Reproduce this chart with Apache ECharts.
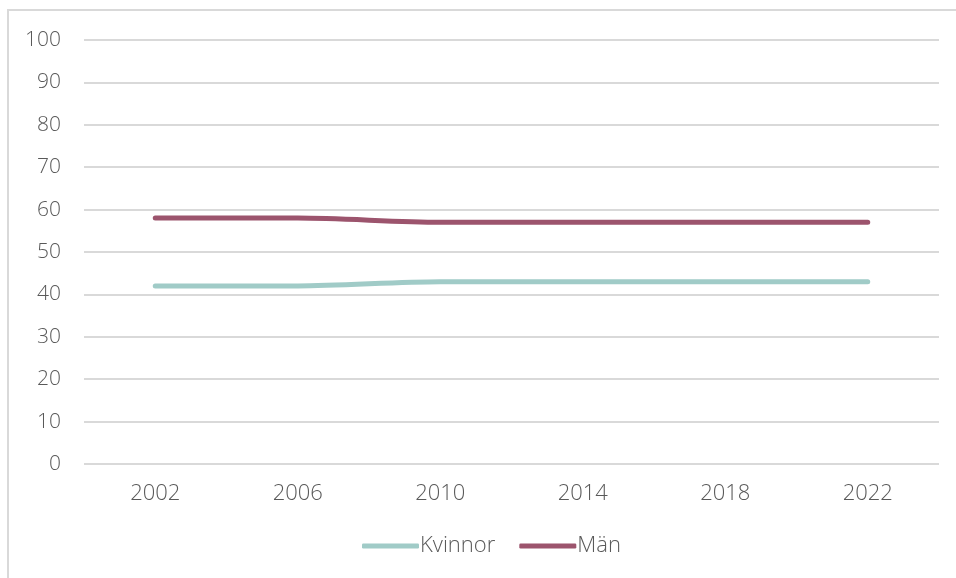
<!DOCTYPE html>
<html>
<head>
<meta charset="utf-8">
<script src="https://cdn.jsdelivr.net/npm/echarts@6/dist/echarts.min.js"></script>
<style>
html, body { margin: 0; padding: 0; background: #fff; }
#frame {
  position: absolute; left: 7px; top: 9px; width: 1000px; height: 620px;
  border: 2px solid #d9d9d9; box-sizing: border-box;
}
#chart { position: absolute; left: 0; top: 0; width: 956px; height: 578px; }
</style>
</head>
<body>
<div id="frame"></div>
<div id="chart"></div>
<script>
var years = ["2002", "2006", "2010", "2014", "2018", "2022"];
var kvinnor = [42, 42, 43, 43, 43, 43];
var man = [58, 58, 57, 57, 57, 57];

var chart = echarts.init(document.getElementById("chart"));
var textFont = "Open Sans";

chart.setOption({
  animation: false,
  grid: { left: 84, right: 17, top: 40, bottom: 114 },
  legend: {
    bottom: 16,
    left: 357,
    itemWidth: 57,
    itemHeight: 5,
    itemGap: 24,
    icon: "roundRect",
    textStyle: { color: "#595959", fontSize: 22, fontWeight: 300, fontFamily: textFont, padding: [0, 0, 0, -4] },
    data: ["Kvinnor", "Män"]
  },
  xAxis: {
    type: "category",
    data: years,
    boundaryGap: true,
    axisLine: { show: false },
    axisTick: { show: false },
    axisLabel: { color: "#595959", fontSize: 22, fontWeight: 300, fontFamily: textFont, margin: 19 }
  },
  yAxis: {
    type: "value",
    min: 0,
    max: 100,
    interval: 10,
    axisLine: { show: false },
    axisTick: { show: false },
    axisLabel: { color: "#595959", fontSize: 21, fontWeight: 300, fontFamily: textFont, margin: 23 },
    splitLine: { lineStyle: { color: "#d9d9d9", width: 2 } }
  },
  series: [
    {
      name: "Kvinnor",
      type: "line",
      data: kvinnor,
      smooth: 0.3,
      symbol: "none",
      itemStyle: { color: "#a0cbc7" },
      lineStyle: { color: "#a0cbc7", width: 5, cap: "round" }
    },
    {
      name: "Män",
      type: "line",
      data: man,
      smooth: 0.3,
      symbol: "none",
      itemStyle: { color: "#9c546d" },
      lineStyle: { color: "#9c546d", width: 5, cap: "round" }
    }
  ]
});
</script>
</body>
</html>
